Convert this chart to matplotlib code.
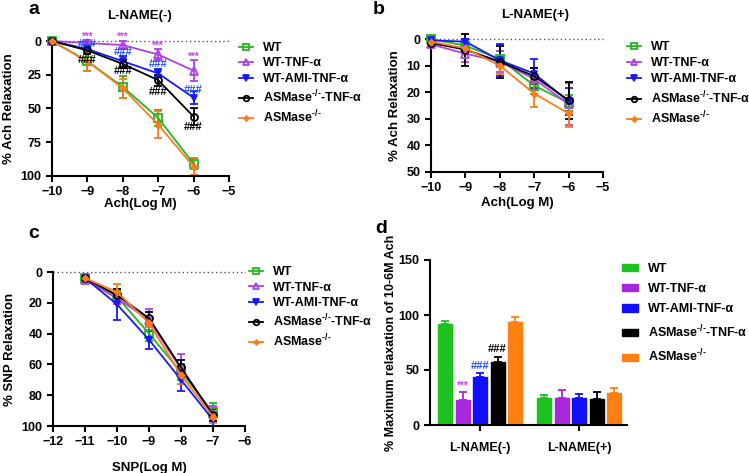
import matplotlib
matplotlib.use("Agg")
import matplotlib.pyplot as plt
import numpy as np

plt.rcParams['font.family'] = ['Liberation Sans', 'DejaVu Sans']
plt.rcParams['font.weight'] = 'bold'
plt.rcParams['axes.labelweight'] = 'bold'
plt.rcParams['mathtext.fontset'] = 'custom'
plt.rcParams['mathtext.rm'] = 'Liberation Sans:bold'
plt.rcParams['mathtext.bf'] = 'Liberation Sans:bold'
plt.rcParams['axes.linewidth'] = 1.5

series = ['WT', 'WT-TNF-α', 'WT-AMI-TNF-α', r'ASMase$^{\text{-/-}}$-TNF-α', r'ASMase$^{\text{-/-}}$']
colors = ['#22b822', '#b040e8', '#1818ff', '#000000', '#ff7a1a']
bar_colors = ['#1ec21e', '#a828e0', '#1010ff', '#000000', '#ff8010']
markers = ['s', '^', 'v', 'o', 'D']
mfill = ['none', 'none', 'full', 'none', 'full']
msize = [6, 6, 5, 5, 3]

# Panel a: L-NAME(-)
xa = [-10, -9, -8, -7, -6]
a_vals = [[0, 15, 34, 57, 91],
          [0, 1.5, 3, 10, 22],
          [0, 6, 15, 24, 42],
          [0, 7, 17, 29, 56],
          [0, 15, 35, 62, 93]]
a_err = [[1, 7, 8, 6, 4],
         [1, 2, 3, 4, 8],
         [1, 2, 4, 3, 5],
         [1, 3, 3, 4, 6],
         [1, 7, 7, 10, 6]]

# Panel b: L-NAME(+)
b_vals = [[0, 2.5, 7.5, 17.5, 24],
          [2, 5.5, 8.5, 15, 24.5],
          [0.5, 1, 8, 13, 23.5],
          [1.5, 4, 8.5, 14, 23],
          [1, 3.5, 10, 20.5, 28]]
b_err = [[1, 2, 3, 3, 3],
         [1, 3, 4, 4, 8],
         [0.5, 1, 6, 5.5, 5],
         [0.5, 6, 6, 3, 7],
         [1, 2, 3, 5, 5]]

# Panel c: SNP
xc = [-11, -10, -9, -8, -7]
c_vals = [[4, 16, 40, 65, 91],
          [5, 17, 31, 63, 92],
          [4, 21, 44, 70, 96],
          [4, 15, 30, 62, 93],
          [4, 13, 33, 67, 94]]
c_err = [[2, 4, 5, 5, 6],
         [2, 4, 7, 10, 5],
         [2, 10, 6, 7, 4],
         [2, 4, 4, 5, 4],
         [2, 5, 3, 6, 4]]

# Panel d: maximum relaxation
groups = ['L-NAME(-)', 'L-NAME(+)']
d_vals = [[92, 25], [23, 25], [44, 25], [57, 24], [94, 29]]
d_err = [[3, 2], [7, 7], [3, 3], [5, 6], [4, 5]]

W, H = 749, 473
fig = plt.figure(figsize=(W / 100, H / 100), dpi=100)

def box(l, t, r, b):
    return [l / W, 1 - b / H, (r - l) / W, (b - t) / H]

def fxy(x, y):
    return (x / W, 1 - y / H)

def style(ax):
    for s in ['top', 'right']:
        ax.spines[s].set_visible(False)
    ax.tick_params(width=1.5, length=4, labelsize=9)
    for lab in ax.get_xticklabels() + ax.get_yticklabels():
        lab.set_fontweight('bold')

def curves(ax, x, vals, errs):
    handles = []
    for i in range(5):
        ax.errorbar(x, vals[i], yerr=errs[i], fmt='none', ecolor=colors[i],
                    capsize=3, elinewidth=1.3, capthick=1.3, clip_on=False, zorder=2)
        h, = ax.plot(x, vals[i], color=colors[i], marker=markers[i],
                     fillstyle=mfill[i], markersize=msize[i], markeredgewidth=1.3,
                     lw=1.3, clip_on=False, zorder=3, label=series[i])
        handles.append(h)
    ax.axhline(0, color='#555555', ls=(0, (1, 2)), lw=1.0, zorder=1, clip_on=False)
    return handles

def line_legend(ax, x, y, spacing):
    ax.legend(loc='upper left', bbox_to_anchor=fxy(x, y), bbox_transform=fig.transFigure,
              frameon=False, fontsize=9, handlelength=1.1, labelspacing=spacing,
              handletextpad=0.8, borderpad=0, borderaxespad=0, markerscale=0.8)

# a
ax = fig.add_axes(box(52, 41, 229, 176))
curves(ax, xa, a_vals, a_err)
ax.set_xlim(-10, -5)
ax.set_ylim(100, 0)
ax.set_xticks([-10, -9, -8, -7, -6, -5])
ax.set_yticks([0, 25, 50, 75, 100])
ax.set_xlabel('Ach(Log M)', fontsize=9.5, labelpad=0)
ax.set_ylabel('% Ach Relaxation', fontsize=9.5, labelpad=4)
style(ax)
star_y = [-3, -3, 3.5, 12]
blue_y = [2, 8, 17, 36]
black_y = [14, 22, 37.5, 64]
for xi, sy, by, ky in zip(xa[1:], star_y, blue_y, black_y):
    ax.text(xi, sy, '***', color='#d040f0', fontsize=7, ha='center', va='center')
    ax.text(xi, by, '###', color='#2050ff', fontsize=8, ha='center', va='center')
    ax.text(xi, ky, '###', color='#000000', fontsize=8, ha='center', va='center')
line_legend(ax, 239, 42, 0.28)
fig.text(28 / W, 1 - 10 / H, 'a', fontsize=14, fontweight='bold', va='center')
fig.text(140 / W, 1 - 16 / H, 'L-NAME(-)', fontsize=9.5, fontweight='bold', ha='center', va='center')

# b
ax = fig.add_axes(box(431, 39, 603, 172))
curves(ax, xa, b_vals, b_err)
ax.set_xlim(-10, -5)
ax.set_ylim(50, 0)
ax.set_xticks([-10, -9, -8, -7, -6, -5])
ax.set_yticks([0, 10, 20, 30, 40, 50])
ax.set_xlabel('Ach(Log M)', fontsize=9.5, labelpad=2)
ax.set_ylabel('% Ach Relaxation', fontsize=9.5, labelpad=4)
style(ax)
line_legend(ax, 627, 41, 0.33)
fig.text(373 / W, 1 - 10 / H, 'b', fontsize=14, fontweight='bold', va='center')
fig.text(535 / W, 1 - 15 / H, 'L-NAME(+)', fontsize=9.5, fontweight='bold', ha='center', va='center')

# c
ax = fig.add_axes(box(53, 272, 245, 426))
curves(ax, xc, c_vals, c_err)
ax.set_xlim(-12, -6)
ax.set_ylim(100, 0)
ax.set_xticks([-12, -11, -10, -9, -8, -7, -6])
ax.set_yticks([0, 20, 40, 60, 80, 100])
ax.set_xlabel('SNP(Log M)', fontsize=9.5, labelpad=10)
ax.set_ylabel('% SNP Relaxation', fontsize=9.5, labelpad=4)
style(ax)
line_legend(ax, 249, 266, 0.28)
fig.text(28 / W, 1 - 233 / H, 'c', fontsize=14, fontweight='bold', va='center')

# d
ax = fig.add_axes(box(430, 260, 627, 425))
bw = 0.8
gpos = [0, 5.66]
for i in range(5):
    xs = [g + i for g in gpos]
    ax.bar(xs, d_vals[i], width=bw, color=bar_colors[i], edgecolor=bar_colors[i],
           label=series[i], zorder=2)
    ax.errorbar(xs, d_vals[i], yerr=[[0, 0], d_err[i]], fmt='none', ecolor=bar_colors[i],
                capsize=3, elinewidth=1.3, capthick=1.3, zorder=1)
ax.set_xlim(-0.86, 10.4)
ax.set_ylim(0, 150)
ax.set_yticks([0, 50, 100, 150])
ax.set_xticks([g + 2 for g in gpos])
ax.set_xticklabels(groups)
ax.tick_params(axis='x', length=0, pad=8)
ax.set_ylabel('% Maximum relaxation of 10-6M Ach', fontsize=9, labelpad=1)
style(ax)
ax.text(1, 35.7, '***', color='#d040f0', fontsize=7, ha='center', va='center')
ax.text(2, 53.6, '###', color='#2050ff', fontsize=8, ha='center', va='center')
ax.text(3, 69, '###', color='#000000', fontsize=8, ha='center', va='center')
ax.legend(loc='upper left', bbox_to_anchor=fxy(622, 263), bbox_transform=fig.transFigure,
          frameon=False, fontsize=9, handlelength=1.3, handleheight=0.55,
          labelspacing=0.65, handletextpad=0.75, borderpad=0, borderaxespad=0)
fig.text(375 / W, 1 - 228 / H, 'd', fontsize=14, fontweight='bold', va='center')

fig.savefig('out.png', dpi=100)
